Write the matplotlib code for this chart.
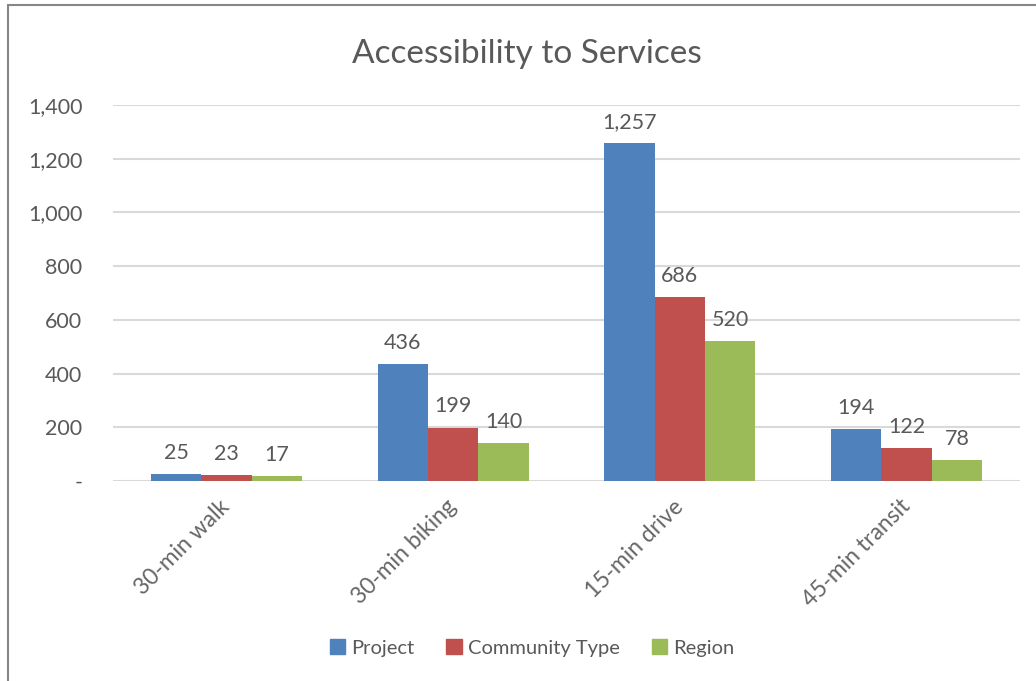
import matplotlib.pyplot as plt
import matplotlib.patches as mpatches
import numpy as np

categories = ["30-min walk", "30-min biking", "15-min drive", "45-min transit"]
series_names = ["Project", "Community Type", "Region"]
project = [25, 436, 1257, 194]
community = [23, 199, 686, 122]
region = [17, 140, 520, 78]
yticks = [0, 200, 400, 600, 800, 1000, 1200, 1400]

cores = ["#4F81BD", "#C0504D", "#9BBB59"]
texto = "#595959"
plt.rcParams['font.family'] = ['Lato', 'DejaVu Sans']

fig = plt.figure(figsize=(10.36, 6.81), dpi=100)
ax = fig.add_axes([113/1036, 200/681, 907/1036, 376/681])

x = np.arange(len(categories))
w = 1/4.5
for i, vals in enumerate([project, community, region]):
    bars = ax.bar(x + (i - 1) * w, vals, width=w, color=cores[i], label=series_names[i], zorder=3)
    for b, v in zip(bars, vals):
        ax.annotate(f"{v:,}", (b.get_x() + b.get_width()/2, v), xytext=(0, 8),
                    textcoords="offset points", ha="center", va="bottom",
                    fontsize=15.5, color=texto)

ax.set_xlim(-0.5, len(categories) - 0.5)
ax.set_ylim(0, 1400)
ax.set_yticks(yticks)
ax.set_yticklabels(["-" if t == 0 else f"{t:,}" for t in yticks], fontsize=15.5, color=texto)
ax.set_xticks(x)
ax.set_xticklabels(categories, rotation=45, ha="right", va="center",
                   rotation_mode="anchor", fontsize=16.5, color="#666666")
ax.tick_params(axis="y", length=0, pad=22)
ax.tick_params(axis="x", length=0, pad=16)
for s in ax.spines.values():
    s.set_visible(False)
ax.yaxis.grid(True, color="#D9D9D9", linewidth=1.5, zorder=0)
ax.set_axisbelow(True)

fig.text(527/1036, 1 - 54/681, "Accessibility to Services", ha="center", va="center",
         fontsize=24, color=texto)

handles = [mpatches.Patch(color=cores[i], label=series_names[i]) for i in range(3)]
fig.legend(handles=handles, loc="center", bbox_to_anchor=(532/1036, 1 - 648/681),
           ncol=3, frameon=False, fontsize=14.5, labelcolor=texto,
           handlelength=0.75, handleheight=0.75, handletextpad=0.3, columnspacing=1.6)

# borda do gráfico
borda = mpatches.Rectangle((8/1036, -0.1), 1.2, 1.1 - 5/681, transform=fig.transFigure,
                           fill=False, edgecolor="#868686", linewidth=1.5)
fig.patches.append(borda)

plt.savefig("out.png", dpi=100)
